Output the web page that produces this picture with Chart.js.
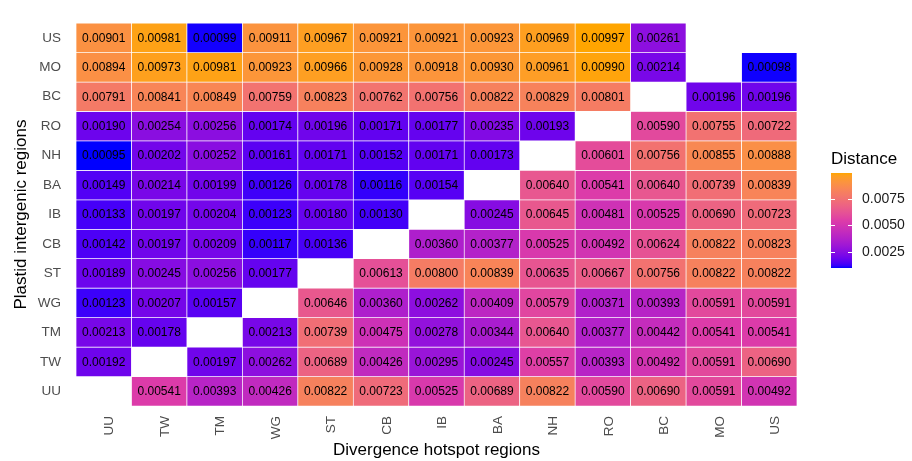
<!DOCTYPE html>
<html>
<head>
<meta charset="utf-8">
<script src="https://cdn.jsdelivr.net/npm/chart.js@4.4.1/dist/chart.umd.min.js"></script>
<style>
  html, body { margin: 0; padding: 0; background: #ffffff; }
  canvas { display: block; }
</style>
</head>
<body>
<canvas id="heat" width="912" height="461"></canvas>
<script>
// Divergence hotspot regions (columns, left to right)
const colLabels = ['UU', 'TW', 'TM', 'WG', 'ST', 'CB', 'IB', 'BA', 'NH', 'RO', 'BC', 'MO', 'US'];

// Plastid intergenic regions (rows, top to bottom)
const rowLabels = ['US', 'MO', 'BC', 'RO', 'NH', 'BA', 'IB', 'CB', 'ST', 'WG', 'TM', 'TW', 'UU'];

// Distances per row, one value per column (null = no comparison)
const rowUS = [0.00901, 0.00981, 0.00099, 0.00911, 0.00967, 0.00921, 0.00921, 0.00923, 0.00969, 0.00997, 0.00261, null, null];
const rowMO = [0.00894, 0.00973, 0.00981, 0.00923, 0.00966, 0.00928, 0.00918, 0.00930, 0.00961, 0.00990, 0.00214, null, 0.00098];
const rowBC = [0.00791, 0.00841, 0.00849, 0.00759, 0.00823, 0.00762, 0.00756, 0.00822, 0.00829, 0.00801, null, 0.00196, 0.00196];
const rowRO = [0.00190, 0.00254, 0.00256, 0.00174, 0.00196, 0.00171, 0.00177, 0.00235, 0.00193, null, 0.00590, 0.00755, 0.00722];
const rowNH = [0.00095, 0.00202, 0.00252, 0.00161, 0.00171, 0.00152, 0.00171, 0.00173, null, 0.00601, 0.00756, 0.00855, 0.00888];
const rowBA = [0.00149, 0.00214, 0.00199, 0.00126, 0.00178, 0.00116, 0.00154, null, 0.00640, 0.00541, 0.00640, 0.00739, 0.00839];
const rowIB = [0.00133, 0.00197, 0.00204, 0.00123, 0.00180, 0.00130, null, 0.00245, 0.00645, 0.00481, 0.00525, 0.00690, 0.00723];
const rowCB = [0.00142, 0.00197, 0.00209, 0.00117, 0.00136, null, 0.00360, 0.00377, 0.00525, 0.00492, 0.00624, 0.00822, 0.00823];
const rowST = [0.00189, 0.00245, 0.00256, 0.00177, null, 0.00613, 0.00800, 0.00839, 0.00635, 0.00667, 0.00756, 0.00822, 0.00822];
const rowWG = [0.00123, 0.00207, 0.00157, null, 0.00646, 0.00360, 0.00262, 0.00409, 0.00579, 0.00371, 0.00393, 0.00591, 0.00591];
const rowTM = [0.00213, 0.00178, null, 0.00213, 0.00739, 0.00475, 0.00278, 0.00344, 0.00640, 0.00377, 0.00442, 0.00541, 0.00541];
const rowTW = [0.00192, null, 0.00197, 0.00262, 0.00689, 0.00426, 0.00295, 0.00245, 0.00557, 0.00393, 0.00492, 0.00591, 0.00690];
const rowUU = [null, 0.00541, 0.00393, 0.00426, 0.00822, 0.00723, 0.00525, 0.00689, 0.00822, 0.00590, 0.00690, 0.00591, 0.00492];

const rowValues = [rowUS, rowMO, rowBC, rowRO, rowNH, rowBA, rowIB, rowCB, rowST, rowWG, rowTM, rowTW, rowUU];

// Colour bar breaks
const legendBreaks = [0.0025, 0.0050, 0.0075];

const FONT = '"Liberation Sans", Arial, Helvetica, sans-serif';
// Fill palette: blue -> magenta-pink -> orange
const paletteStops = [0, 0.5, 1];
const paletteColors = [[0, 0, 255], [221, 60, 168], [255, 165, 0]];

// ---- Lab colour interpolation ----
function toLinear(c) { c /= 255; return c <= 0.04045 ? c / 12.92 : Math.pow((c + 0.055) / 1.055, 2.4); }
function fromLinear(c) { const v = c <= 0.0031308 ? 12.92 * c : 1.055 * Math.pow(c, 1 / 2.4) - 0.055; return Math.max(0, Math.min(255, Math.round(v * 255))); }
const WX = 0.95047, WY = 1.0, WZ = 1.08883;
function rgbToLab(rgb) {
  const R = toLinear(rgb[0]), G = toLinear(rgb[1]), B = toLinear(rgb[2]);
  const X = (0.4124564 * R + 0.3575761 * G + 0.1804375 * B) / WX;
  const Y = (0.2126729 * R + 0.7151522 * G + 0.0721750 * B) / WY;
  const Z = (0.0193339 * R + 0.1191920 * G + 0.9503041 * B) / WZ;
  const f = t => t > 0.008856 ? Math.cbrt(t) : 7.787 * t + 16 / 116;
  const fx = f(X), fy = f(Y), fz = f(Z);
  return [116 * fy - 16, 500 * (fx - fy), 200 * (fy - fz)];
}
function labToRgb(lab) {
  const fy = (lab[0] + 16) / 116, fx = fy + lab[1] / 500, fz = fy - lab[2] / 200;
  const inv = t => { const t3 = t * t * t; return t3 > 0.008856 ? t3 : (t - 16 / 116) / 7.787; };
  const X = inv(fx) * WX, Y = inv(fy) * WY, Z = inv(fz) * WZ;
  const R = 3.2404542 * X - 1.5371385 * Y - 0.4985314 * Z;
  const G = -0.9692660 * X + 1.8760108 * Y + 0.0415560 * Z;
  const B = 0.0556434 * X - 0.2040259 * Y + 1.0572252 * Z;
  return [fromLinear(R), fromLinear(G), fromLinear(B)];
}
const paletteLab = paletteColors.map(rgbToLab);

const allValues = rowValues.flat().filter(v => v !== null);
const vMin = Math.min(...allValues), vMax = Math.max(...allValues);

function colorFor(v) {
  const t = Math.max(0, Math.min(1, (v - vMin) / (vMax - vMin)));
  let k = 0;
  while (k < paletteStops.length - 2 && t > paletteStops[k + 1]) k++;
  const u = (t - paletteStops[k]) / (paletteStops[k + 1] - paletteStops[k]);
  const a = paletteLab[k], b = paletteLab[k + 1];
  const rgb = labToRgb(a.map((c, i) => c + (b[i] - c) * u));
  return `rgb(${rgb[0]},${rgb[1]},${rgb[2]})`;
}

// Row index on the linear y scale: bottom row = 0
const nRows = rowLabels.length;
const yIndex = r => nRows - 1 - r;

const datasets = rowValues.map((vals, r) => ({
  label: rowLabels[r],
  data: vals.map(v => v === null ? null : [yIndex(r) - 0.5, yIndex(r) + 0.5]),
  distances: vals,
  backgroundColor: vals.map(v => v === null ? 'rgba(0,0,0,0)' : colorFor(v)),
  borderColor: '#ffffff',
  borderWidth: 0.7,
  borderSkipped: false,
  barPercentage: 1.0,
  categoryPercentage: 1.0,
  grouped: false
}));

// Value text inside each tile
const cellLabels = {
  id: 'cellLabels',
  afterDatasetsDraw(chart) {
    const ctx = chart.ctx;
    ctx.save();
    ctx.font = `12px ${FONT}`;
    ctx.fillStyle = '#000000';
    ctx.textAlign = 'center';
    ctx.textBaseline = 'middle';
    chart.data.datasets.forEach((ds, di) => {
      const meta = chart.getDatasetMeta(di);
      meta.data.forEach((el, i) => {
        const v = ds.distances[i];
        if (v === null || v === undefined) return;
        const cy = (el.y + el.base) / 2;
        ctx.fillText(v.toFixed(5), el.x, cy + 0.5);
      });
    });
    ctx.restore();
  }
};

// Continuous colour bar legend
const colorBar = {
  id: 'colorBar',
  afterDraw(chart) {
    const ctx = chart.ctx;
    const x0 = 831, w = 21, top = 173, bottom = 268;
    ctx.save();
    ctx.font = `17px ${FONT}`;
    ctx.fillStyle = '#000000';
    ctx.textAlign = 'left';
    ctx.textBaseline = 'alphabetic';
    ctx.fillText('Distance', 831, 164);

    const grad = ctx.createLinearGradient(0, bottom, 0, top);
    const steps = 40;
    for (let s = 0; s <= steps; s++) {
      const t = s / steps;
      grad.addColorStop(t, colorFor(vMin + t * (vMax - vMin)));
    }
    ctx.fillStyle = grad;
    ctx.fillRect(x0, top, w, bottom - top);

    const yFor = v => bottom - (v - vMin) / (vMax - vMin) * (bottom - top);
    ctx.strokeStyle = '#ffffff';
    ctx.lineWidth = 1;
    ctx.font = `14px ${FONT}`;
    ctx.fillStyle = '#1a1a1a';
    ctx.textBaseline = 'middle';
    legendBreaks.forEach(b => {
      const y = Math.round(yFor(b)) + 0.5;
      ctx.beginPath();
      ctx.moveTo(x0, y); ctx.lineTo(x0 + 4, y);
      ctx.moveTo(x0 + w - 4, y); ctx.lineTo(x0 + w, y);
      ctx.stroke();
      ctx.fillText(b.toFixed(4), 862, y);
    });
    ctx.restore();
  }
};

new Chart(document.getElementById('heat'), {
  type: 'bar',
  data: { labels: colLabels, datasets },
  options: {
    responsive: false,
    animation: false,
    layout: { padding: { top: 11, right: 115, bottom: 0, left: 0 } },
    plugins: { legend: { display: false }, tooltip: { enabled: false } },
    scales: {
      x: {
        type: 'category',
        offset: true,
        grid: { display: false, drawTicks: false },
        border: { display: false },
        ticks: {
          autoSkip: false, maxRotation: 90, minRotation: 90,
          padding: 10, labelOffset: 6,
          color: '#4D4D4D', font: { family: FONT, size: 13.5 }
        },
        title: {
          display: true, text: 'Divergence hotspot regions',
          color: '#000000', font: { family: FONT, size: 17 },
          padding: { top: 0, bottom: 0 }
        },
        afterFit(scale) { scale.height = 55; }
      },
      y: {
        type: 'linear',
        min: -0.5, max: nRows - 0.5,
        grid: { display: false, drawTicks: false },
        border: { display: false },
        afterBuildTicks(scale) { scale.ticks = rowLabels.map((_, i) => ({ value: i })); },
        ticks: {
          padding: 15,
          color: '#4D4D4D', font: { family: FONT, size: 13.5 },
          callback: v => rowLabels[nRows - 1 - v]
        },
        title: {
          display: true, text: 'Plastid intergenic regions',
          color: '#000000', font: { family: FONT, size: 17 },
          padding: { top: 11, bottom: 0 }
        },
        afterFit(scale) { scale.width = 76; }
      }
    }
  },
  plugins: [cellLabels, colorBar]
});
</script>
</body>
</html>
